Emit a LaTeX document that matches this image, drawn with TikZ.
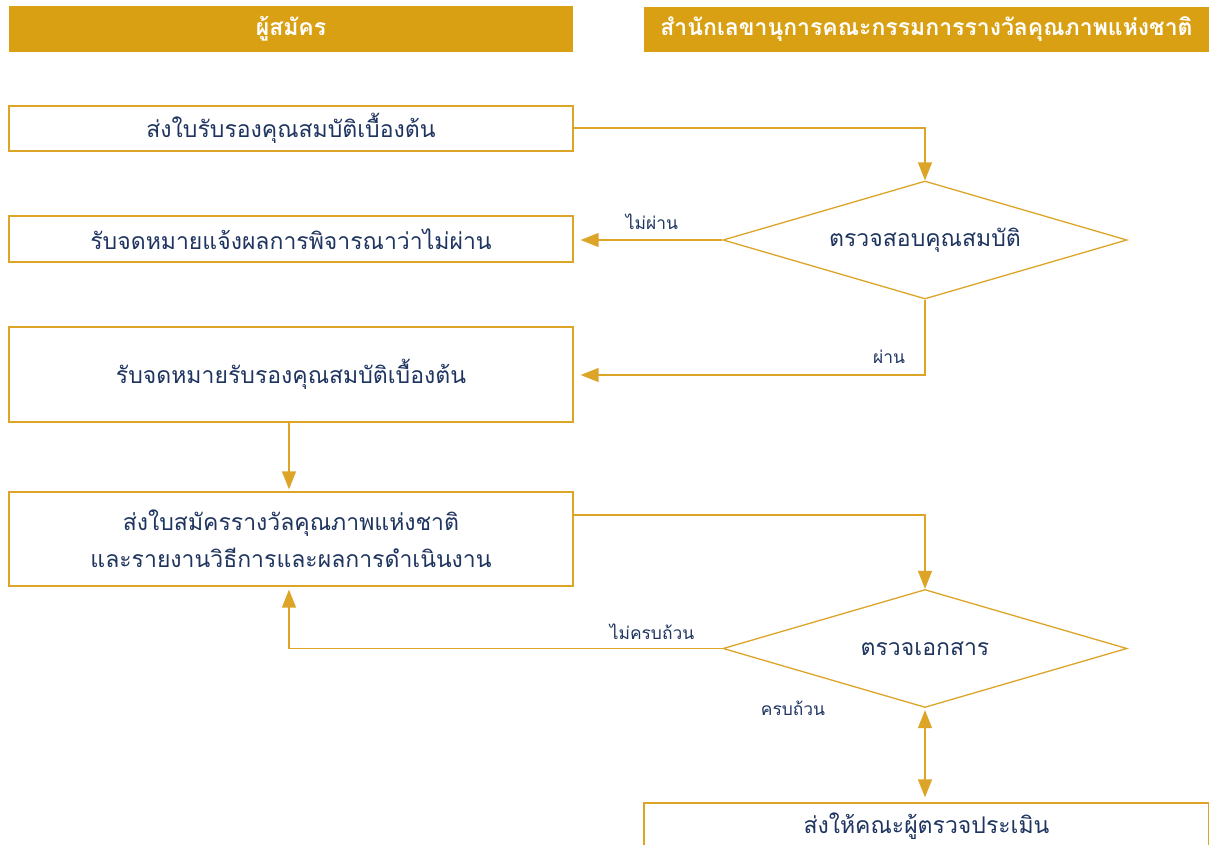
\documentclass[tikz,border=0pt]{standalone}
\usepackage{fontspec}
\newfontfamily\thaifont[Script=Thai]{Loma}
\usetikzlibrary{shapes.geometric,arrows.meta}
\definecolor{gold}{HTML}{D9A013}
\definecolor{linegold}{HTML}{DDA528}
\definecolor{navy}{HTML}{1F3560}
\tikzset{
  hdr/.style={fill=gold, text=white, font=\thaifont\fontsize{23}{26}\selectfont\bfseries, minimum width=564pt, minimum height=46pt, inner sep=0pt},
  procbox/.style={draw=linegold, line width=1.3pt, fill=white, text=navy, font=\thaifont\fontsize{23}{37}\selectfont, minimum width=564pt, inner sep=0pt, align=center},
  decide/.style={diamond, aspect=3.42, draw=linegold, line width=1.3pt, text=navy, font=\thaifont\fontsize{23}{26}\selectfont, minimum width=404pt, minimum height=118pt, inner sep=0pt},
  flow/.style={draw=linegold, line width=1.4pt, -{Triangle[length=18pt,width=14pt]}},
  lbl/.style={text=navy, font=\thaifont\fontsize{17.4}{20}\selectfont, inner sep=0pt}
}
\begin{document}
\begin{tikzpicture}[x=1pt,y=-1pt]
\clip (0,0) rectangle (1209,845);
\fill[white] (0,0) rectangle (1209,845);
\node[hdr] (h1) at (291,29) {ผู้สมัคร};
\node[hdr, minimum width=565pt, minimum height=45pt] (h2) at (926.5,29.5) {สำนักเลขานุการคณะกรรมการรางวัลคุณภาพแห่งชาติ};
\node[procbox, minimum height=45pt] (b1) at (291,128.5) {ส่งใบรับรองคุณสมบัติเบื้องต้น};
\node[procbox, minimum height=46pt] (b2) at (291,239) {รับจดหมายแจ้งผลการพิจารณาว่าไม่ผ่าน};
\node[procbox, minimum height=95pt] (b3) at (291,374.5) {รับจดหมายรับรองคุณสมบัติเบื้องต้น};
\node[procbox, minimum height=94pt] (b4) at (291,539) {ส่งใบสมัครรางวัลคุณภาพแห่งชาติ\\และรายงานวิธีการและผลการดำเนินงาน};
\node[procbox, minimum width=565pt, minimum height=46pt] (b5) at (926.5,826) {ส่งให้คณะผู้ตรวจประเมิน};
\node[decide] (d1) at (925,240) {ตรวจสอบคุณสมบัติ};
\node[decide] (d2) at (925,648.5) {ตรวจเอกสาร};
\coordinate (c1) at (925,128);
\coordinate (c2) at (925,375);
\coordinate (c3) at (925,515);
\coordinate (c4) at (289,648.5);
\draw[flow] (b1.east |- c1) -- (c1) -- (d1.north);
\draw[flow, shorten >=7pt] (d1.west) -- (d1.west -| b2.east);
\draw[flow, shorten >=7pt] (d1.south) -- (c2) -- (c2 -| b3.east);
\draw[flow, shorten >=2pt] (b3.south -| c4) -- (b4.north -| c4);
\draw[flow] (b4.east |- c3) -- (c3) -- (d2.north);
\draw[flow, shorten >=3pt] (d2.west) -- (c4) -- (b4.south -| c4);
\draw[flow, {Triangle[length=18pt,width=14pt]}-{Triangle[length=18pt,width=14pt]}, shorten <=2pt, shorten >=5pt] (d2.south) -- (b5.north -| d2.south);
\node[lbl] (l1) at (652,222) {ไม่ผ่าน};
\node[lbl] (l2) at (889,357) {ผ่าน};
\node[lbl] (l3) at (652,632) {ไม่ครบถ้วน};
\node[lbl] (l4) at (793,708) {ครบถ้วน};
\end{tikzpicture}
\end{document}
